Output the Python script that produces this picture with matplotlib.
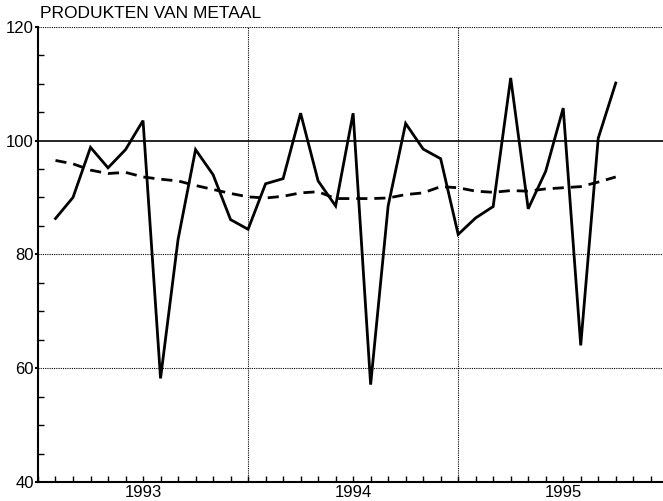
import matplotlib.pyplot as plt
import numpy as np

# months counted from the start of 1993 (0 = 1 jan 1993)
months = list(range(1, 34))
productie = [86.3, 90.0, 98.8, 95.2, 98.4, 103.5, 58.2, 82.6, 98.4, 94.0,
             86.1, 84.4, 92.4, 93.3, 104.8, 92.9, 88.5, 104.8, 57.1, 88.5,
             103.0, 98.5, 96.8, 83.5, 86.4, 88.4, 111.0, 88.0, 94.6, 105.7,
             64.0, 100.4, 110.1]
trend = [96.5, 95.9, 94.8, 94.2, 94.4, 93.6, 93.2, 92.9, 92.1, 91.4,
         90.7, 90.1, 89.9, 90.2, 90.8, 91.0, 89.8, 89.8, 89.8, 89.9,
         90.5, 90.8, 91.9, 91.7, 91.1, 90.9, 91.2, 91.1, 91.5, 91.7,
         91.9, 92.7, 93.6]
year_labels = ["1993", "1994", "1995"]
title = "PRODUKTEN VAN METAAL"

plt.rcParams['font.family'] = ['Liberation Sans', 'DejaVu Sans']

fig = plt.figure(figsize=(6.63, 5.01), dpi=100)
ax = fig.add_axes([0.0573, 0.038, 0.9427, 0.9087])

ax.set_xlim(0, 35.7)
ax.set_ylim(40, 120)

# dotted grid
for y in (60, 80, 120):
    ax.axhline(y, color='black', lw=0.8, ls=(0, (1, 1)), zorder=1)
for x in (12, 24):
    ax.axvline(x, color='black', lw=0.8, ls=(0, (1, 1)), zorder=1)
ax.axhline(100, color='black', lw=1.2, zorder=2)

ax.plot(months, productie, color='black', lw=2.0, zorder=4,
        solid_joinstyle='miter')
ax.plot(months, trend, color='black', lw=2.0, ls=(0, (4, 2.5)), zorder=3)

for s in ('top', 'right'):
    ax.spines[s].set_visible(False)
for s in ('left', 'bottom'):
    ax.spines[s].set_linewidth(1.5)

ax.set_yticks([40, 60, 80, 100, 120])
ax.set_yticks(np.arange(40, 121, 5), minor=True)
ax.set_yticklabels(['40', '60', '80', '100', '120'], fontsize=12)
ax.tick_params(axis='y', which='major', direction='out', length=2, width=1.5, pad=1)
ax.tick_params(axis='y', which='minor', direction='in', length=4, width=1)

ax.set_xticks([6, 18, 30])
ax.set_xticklabels(year_labels, fontsize=12)
ax.set_xticks(np.arange(0, 36, 1), minor=True)
ax.tick_params(axis='x', which='both', direction='in', length=4, width=1, pad=2)

fig.text(0.0603, 0.958, title, fontsize=12.5, ha='left', va='bottom')

fig.savefig('out.png', dpi=100)
